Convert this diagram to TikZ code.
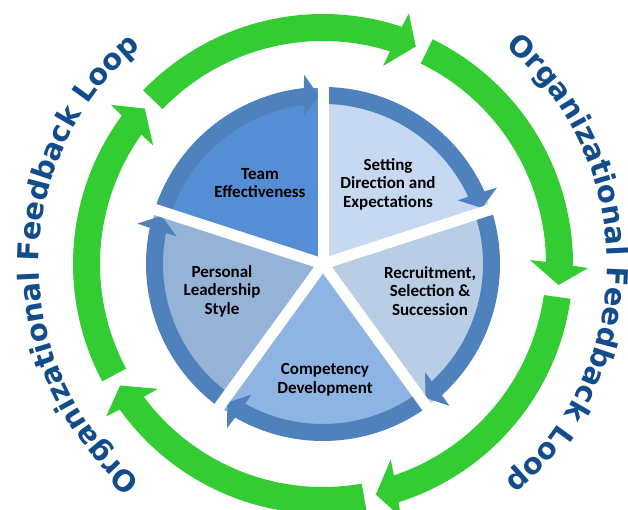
\documentclass[tikz,border=0pt]{standalone}
\usepackage{fontspec}
\newfontfamily\labelfont{Carlito}
\newfontfamily\loopfont{DejaVu Sans}
\usetikzlibrary{decorations.text}
\definecolor{loopgreen}{HTML}{33CC33}
\definecolor{ringblue}{HTML}{4F81BD}
\definecolor{teamfill}{HTML}{558ED5}
\definecolor{setfill}{HTML}{C6D9F1}
\definecolor{recfill}{HTML}{B9CDE5}
\definecolor{compfill}{HTML}{8EB4E3}
\definecolor{persfill}{HTML}{95B3D7}
\definecolor{loopblue}{HTML}{124C8A}
\begin{document}
\begin{tikzpicture}[x=1pt,y=1pt,
  seglabel/.style={font=\labelfont\bfseries\fontsize{17}{18.5}\selectfont, align=center, text=black, inner sep=0pt},
  divider/.style={white, line width=11pt},
  looptext/.style={decorate, decoration={text along path, text align=center, text color=loopblue,
      text={|\loopfont\bfseries\fontsize{29}{34}\selectfont|Organizational Feedback Loop}}}]
\useasboundingbox (-323,-246) rectangle (305,264);
\coordinate (c) at (0,0);
% green outer arrows
\foreach \k in {0,...,4}{
  \pgfmathsetmacro\gS{64-72*\k}
  \pgfmathsetmacro\gN{\gS-72}
  \pgfmathsetmacro\gBi{\gN+8.55}
  \pgfmathsetmacro\gBo{\gN+7.62}
  \pgfmathsetmacro\gIb{\gN+9.1}
  \pgfmathsetmacro\gOb{\gN+7.1}
  \pgfmathsetmacro\gT{\gN+2.9}
  \fill[loopgreen] (\gS:223pt) arc[start angle=\gS, end angle=\gBi, radius=223pt]
    -- (\gIb:207pt) -- (\gT:236.5pt) -- (\gOb:265pt) -- (\gBo:250pt)
    arc[start angle=\gBo, end angle=\gS, radius=250pt] -- cycle;
}
% loop texts
\path[looptext] (62:284pt) arc[start angle=62, end angle=-62, radius=284pt];
\path[looptext] (242:284pt) arc[start angle=242, end angle=118, radius=284pt];
% sectors
\foreach \a/\col in {162/teamfill, 90/setfill, 18/recfill, -54/compfill, -126/persfill}{
  \pgfmathsetmacro\bB{\a-72}
  \fill[\col] (c) -- (\a:176pt) arc[start angle=\a, end angle=\bB, radius=176pt] -- cycle;
}
% blue ring arrows
\foreach \a in {162,90,18,-54,-126}{
  \pgfmathsetmacro\bB{\a-72}
  \pgfmathsetmacro\bBi{\bB+6.87}
  \pgfmathsetmacro\bBo{\bB+6.21}
  \pgfmathsetmacro\bIb{\bB+7.3}
  \pgfmathsetmacro\bOb{\bB+5.7}
  \pgfmathsetmacro\bT{\bB+1.4}
  \fill[ringblue] (\a:160pt) arc[start angle=\a, end angle=\bBi, radius=160pt]
    -- (\bIb:149pt) -- (\bT:168.5pt) -- (\bOb:190pt) -- (\bBo:177pt)
    arc[start angle=\bBo, end angle=\a, radius=177pt] -- cycle;
}
% white dividers
\foreach \a in {162,90,18,-54,-126}{
  \draw[divider] (c) -- (\a:195pt);
}
% labels
\node[seglabel] (team) at (-63,81) {Team\\Effectiveness};
\node[seglabel] (setting) at (65,80) {Setting\\Direction and\\Expectations};
\node[seglabel] (recruit) at (107,-27) {Recruitment,\\Selection \&\\Succession};
\node[seglabel] (comp) at (2,-116) {Competency\\Development};
\node[seglabel] (pers) at (-101,-27) {Personal\\Leadership\\Style};
\end{tikzpicture}
\end{document}
